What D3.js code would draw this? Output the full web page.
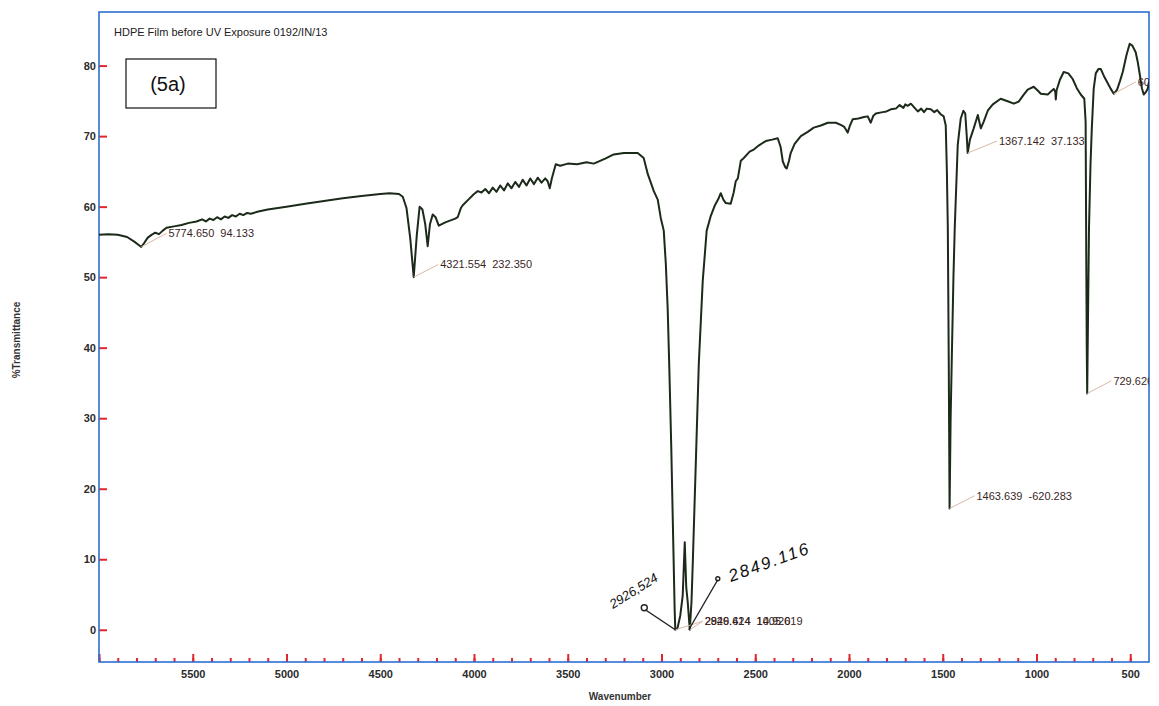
<!DOCTYPE html>
<html>
<head>
<meta charset="utf-8">
<script src="https://cdn.jsdelivr.net/npm/d3@7"></script>
<style>
  body { margin: 0; background: #fff; }
  text { font-family: "Liberation Sans", Arial, sans-serif; }
</style>
</head>
<body>
<div id="chart"></div>
<script>
// FTIR spectrum, HDPE film before UV exposure
var width = 1159, height = 706;

// data (wavenumber cm-1, %T)
var wavenumber = [6000, 5950, 5900, 5850, 5810, 5790, 5774.65, 5760, 5740, 5720, 5700, 5680, 5660, 5640, 5600, 5560, 5520,
  5480, 5450, 5430, 5410, 5390, 5370, 5350, 5330, 5310, 5290, 5270, 5250, 5230, 5210, 5190, 5150, 5100, 5000, 4900, 4800,
  4700, 4600, 4500, 4450, 4400, 4380, 4360, 4340, 4321.55, 4305, 4290, 4275, 4260, 4247, 4235, 4220, 4205, 4188, 4150,
  4100, 4087, 4070, 4060, 4030, 4000, 3980, 3960, 3940, 3920, 3900, 3880, 3860, 3840, 3820, 3800, 3780, 3760, 3740, 3720,
  3700, 3680, 3660, 3640, 3620, 3607, 3596, 3585, 3564, 3540, 3500, 3450, 3400, 3361, 3300, 3255, 3200, 3127, 3095, 3073,
  3041, 3020, 3004, 2988, 2977, 2967, 2959, 2948, 2937, 2930, 2926.5, 2915, 2900, 2887, 2876, 2868, 2860, 2849.1, 2840, 2833,
  2817, 2801, 2780, 2759, 2737, 2715, 2695, 2684, 2670, 2657, 2631, 2615, 2604, 2593, 2577, 2561, 2530, 2508, 2480, 2444,
  2410, 2380, 2365, 2353, 2340, 2332, 2320, 2311, 2290, 2257, 2220, 2188, 2150, 2113, 2070, 2044, 2025, 2007, 1995, 1980,
  1950, 1920, 1900, 1884, 1870, 1857, 1820, 1800, 1777, 1750, 1730, 1710, 1700, 1687, 1670, 1650, 1633, 1615, 1600, 1585,
  1564, 1545, 1530, 1511, 1495, 1484, 1478, 1473, 1468, 1463.6, 1458, 1452, 1443, 1436, 1420, 1404, 1390, 1380, 1372,
  1367.1, 1355, 1335, 1313, 1297, 1281, 1260, 1233, 1191, 1150, 1121, 1095, 1070, 1047, 1015, 995, 977, 940, 908, 900,
  897, 893, 875, 855, 830, 807, 785, 764, 745, 738, 735, 732, 729.6, 725, 720, 712, 705, 695, 684, 670, 657, 640, 620,
  604, 588, 570, 555, 540, 520, 503, 488, 471, 460, 449, 438, 428, 418, 407, 400];
var transmittance = [56.0, 56.1, 56.0, 55.7, 55.0, 54.6, 54.3, 54.8, 55.6, 56.0, 56.3, 56.1, 56.6, 57.0, 57.2, 57.4, 57.7,
  57.9, 58.2, 57.9, 58.3, 58.1, 58.5, 58.2, 58.6, 58.4, 58.8, 58.6, 59.0, 58.8, 59.1, 59.0, 59.3, 59.6, 60.0, 60.4, 60.8,
  61.2, 61.5, 61.8, 61.9, 61.8, 61.4, 59.8, 55.5, 50.0, 56.0, 60.0, 59.6, 57.5, 54.4, 57.5, 58.9, 58.5, 57.3, 57.8,
  58.3, 58.5, 59.8, 60.2, 61.0, 61.8, 62.2, 62.0, 62.5, 61.9, 62.7, 62.1, 63.0, 62.3, 63.3, 62.6, 63.5, 62.8, 63.8, 63.0,
  64.0, 63.2, 64.1, 63.4, 64.0, 63.6, 62.6, 64.0, 66.0, 65.8, 66.1, 66.0, 66.3, 66.1, 66.8, 67.4, 67.6, 67.6, 66.9, 64.6,
  62.2, 61.0, 58.4, 56.6, 51.9, 45.5, 37.8, 26.0, 12.0, 3.0, 0.0, 0.2, 2.0, 4.8, 12.4, 6.0, 3.9, 0.0, 4.0, 9.6,
  23.7, 37.8, 49.5, 56.6, 58.7, 60.2, 61.2, 61.9, 61.0, 60.5, 60.4, 62.0, 63.6, 64.0, 66.5, 66.9, 67.8, 68.1, 68.7, 69.3,
  69.5, 69.7, 68.5, 66.4, 65.6, 65.4, 66.5, 67.6, 68.9, 70.0, 70.6, 71.2, 71.5, 71.9, 71.9, 71.6, 71.3, 70.5, 71.5, 72.4,
  72.5, 72.7, 72.8, 71.9, 72.9, 73.2, 73.4, 73.5, 73.8, 73.9, 74.4, 74.0, 74.5, 74.3, 74.6, 74.0, 73.5, 73.9, 73.4, 73.9,
  73.8, 73.4, 73.7, 73.1, 72.8, 71.5, 65.0, 57.0, 38.0, 17.2, 30.0, 38.2, 50.0, 57.0, 68.8, 72.5, 73.6, 73.2, 70.0,
  67.6, 69.5, 71.1, 73.0, 71.1, 72.1, 73.6, 74.5, 75.3, 74.9, 74.6, 74.9, 75.8, 76.6, 77.0, 76.5, 76.0, 75.9, 76.7, 76.3,
  75.2, 76.5, 78.0, 79.1, 78.9, 78.1, 76.8, 75.9, 75.3, 72.0, 55.0, 40.0, 33.5, 45.0, 57.0, 66.0, 71.1, 76.7, 78.9, 79.5, 79.5, 78.5, 77.5,
  76.7, 76.0, 76.6, 77.8, 79.1, 81.5, 83.1, 82.8, 81.9, 80.5, 78.7, 76.8, 75.9, 76.2, 76.7, 77.7];

// peak labels printed by the instrument
var peakLabels = ["5774.650  94.133", "4321.554  232.350", "2926.624  10.920", "2849.414  1405.619",
  "1463.639  -620.283", "1367.142  37.133", "729.626  -44.512", "600.415  12.708"];
var peakAt = [5774.65, 4321.55, 2926.5, 2849.1, 1463.6, 1367.1, 729.6, 588];
var peakT = [54.3, 50.0, 0.0, 0.0, 17.2, 67.6, 33.5, 76.0];
var labelAt = [5630, 4180, 2770, 2770, 1320, 1200, 590, 460];
var labelT = [56.2, 51.8, 1.2, 1.2, 19.0, 69.3, 35.3, 77.7];

var xTicks = [5500, 5000, 4500, 4000, 3500, 3000, 2500, 2000, 1500, 1000, 500];
var yTicks = [0, 10, 20, 30, 40, 50, 60, 70, 80];

var plotLeft = 99, plotRight = 1149, plotTop = 12, plotBottom = 662;

var x = d3.scaleLinear().domain([6000, 400]).range([plotLeft, plotRight]);
var y = d3.scaleLinear().domain([-4.57, 87.6]).range([plotBottom, plotTop]);

var svg = d3.select("#chart").append("svg")
    .attr("width", width).attr("height", height);

svg.append("defs").append("clipPath").attr("id", "plot")
  .append("rect").attr("x", plotLeft).attr("y", plotTop)
  .attr("width", plotRight - plotLeft).attr("height", plotBottom - plotTop);

// ticks (red, pointing inside)
var xMinor = d3.range(6000, 400, -100);
var xAxisMinor = svg.append("g").attr("transform", "translate(0," + plotBottom + ")")
  .call(d3.axisBottom(x).tickValues(xMinor).tickSize(-4).tickFormat(""));
var xAxis = svg.append("g").attr("transform", "translate(0," + plotBottom + ")")
  .call(d3.axisBottom(x).tickValues([6000].concat(xTicks)).tickSize(-8).tickPadding(8)
    .tickFormat(function(d){ return d == 6000 ? "" : d; }));
var yAxis = svg.append("g").attr("transform", "translate(" + plotLeft + ",0)")
  .call(d3.axisLeft(y).tickValues(yTicks).tickSize(-8).tickPadding(3));

[xAxisMinor, xAxis, yAxis].forEach(function(g){
  g.select(".domain").remove();
  g.selectAll(".tick line").attr("stroke", "#e3262b").attr("stroke-width", 2);
  g.selectAll(".tick text").attr("fill", "#2b2b2b").attr("font-size", 11)
    .attr("font-family", "Liberation Sans, Arial, sans-serif").attr("font-weight", "bold");
});

// blue frame
svg.append("rect").attr("x", plotLeft).attr("y", plotTop)
  .attr("width", plotRight - plotLeft).attr("height", plotBottom - plotTop)
  .attr("fill", "none").attr("stroke", "#2f6fd0").attr("stroke-width", 1.6);

// spectrum
var points = wavenumber.map(function(w, i){ return [w, transmittance[i]]; });
var line = d3.line().x(function(d){ return x(d[0]); }).y(function(d){ return y(d[1]); });
var inside = svg.append("g").attr("clip-path", "url(#plot)");
inside.append("path").datum(points).attr("d", line)
  .attr("fill", "none").attr("stroke", "#1c2a1a").attr("stroke-width", 2)
  .attr("stroke-linejoin", "round");

// peak labels and their leader lines
peakLabels.forEach(function(t, i){
  inside.append("line")
    .attr("x1", x(peakAt[i])).attr("y1", y(peakT[i]))
    .attr("x2", x(labelAt[i]) - 2).attr("y2", y(labelT[i]))
    .attr("stroke", "#d9b9a6").attr("stroke-width", 1);
  inside.append("text").attr("x", x(labelAt[i])).attr("y", y(labelT[i]) + 4)
    .attr("font-size", 11).attr("fill", "#3b1f1f").style("white-space", "pre")
    .text(t);
});

// handwritten notes on the doublet
var hand = svg.append("g").attr("fill", "none").attr("stroke", "#222").attr("stroke-width", 1.4);
hand.append("path").attr("d", "M" + (x(2926.5) - 30) + "," + (y(0) - 20) + " L" + x(2926.5) + "," + y(0));
hand.append("path").attr("d", "M" + (x(2849.1) - 1) + "," + y(0) + " L" + (x(2849.1) + 28) + "," + (y(0) - 50));
hand.append("circle").attr("cx", x(2926.5) - 31).attr("cy", y(0) - 22).attr("r", 3);
hand.append("circle").attr("cx", x(2849.1) + 28).attr("cy", y(0) - 51).attr("r", 2);
svg.append("text").attr("transform", "translate(613,609) rotate(-32)")
  .attr("font-family", "DejaVu Serif, serif").attr("font-style", "italic")
  .attr("font-size", 13).attr("fill", "#111").text("2926,524");
svg.append("text").attr("transform", "translate(731,582) rotate(-20)")
  .attr("font-family", "DejaVu Serif, serif").attr("font-style", "italic")
  .attr("font-size", 17).attr("letter-spacing", 2).attr("fill", "#111").text("2849.116");

// title and sample tag
svg.append("text").attr("x", 114).attr("y", 36).attr("font-size", 11).attr("fill", "#222")
  .text("HDPE Film before UV Exposure 0192/IN/13");
svg.append("rect").attr("x", 126).attr("y", 59).attr("width", 90).attr("height", 49)
  .attr("fill", "#fff").attr("stroke", "#111").attr("stroke-width", 1.2);
svg.append("text").attr("x", 168).attr("y", 91).attr("text-anchor", "middle")
  .attr("font-size", 20).attr("fill", "#111").text("(5a)");

// axis titles
svg.append("text").attr("x", 620).attr("y", 700).attr("text-anchor", "middle")
  .attr("font-size", 10).attr("font-weight", "bold").attr("fill", "#333").text("Wavenumber");
svg.append("text").attr("transform", "translate(20,340) rotate(-90)").attr("text-anchor", "middle")
  .attr("font-size", 10).attr("font-weight", "bold").attr("fill", "#333").text("%Transmittance");
</script>
</body>
</html>
